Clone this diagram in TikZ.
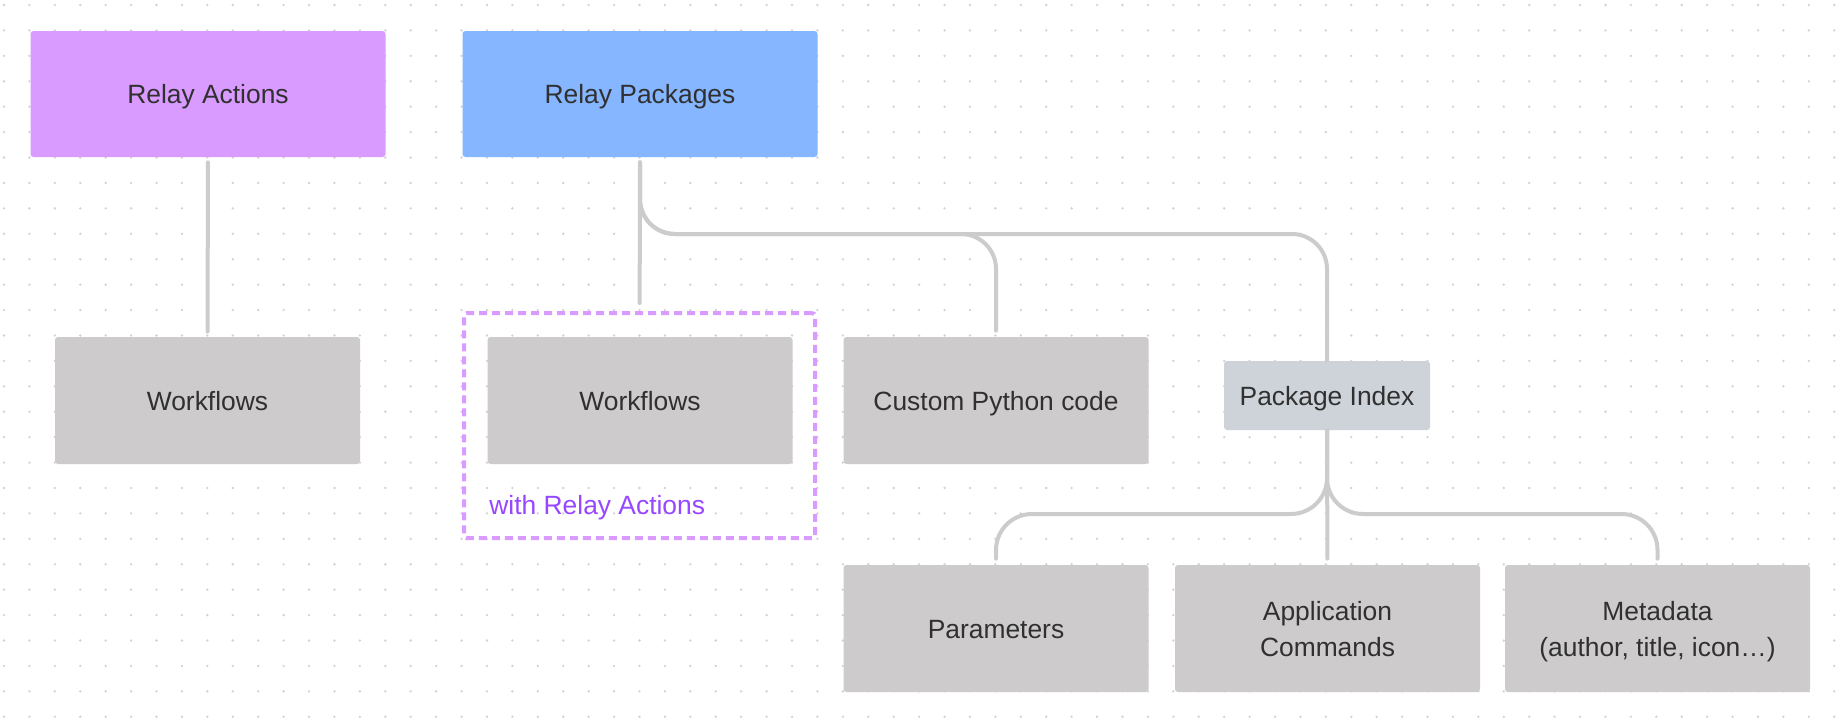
\documentclass[tikz,border=0pt]{standalone}
\usepackage{fontspec}
\setmainfont{Liberation Sans}
\definecolor{actfill}{HTML}{D99BFF}
\definecolor{pkgfill}{HTML}{85B6FF}
\definecolor{boxfill}{HTML}{CDCBCC}
\definecolor{idxfill}{HTML}{CED3DA}
\definecolor{linkgray}{HTML}{CCCCCC}
\definecolor{textgray}{HTML}{303030}
\definecolor{notepurple}{HTML}{9747FF}
\definecolor{dotgray}{HTML}{D2D2D2}

\begin{document}
\begin{tikzpicture}[x=0.5pt, y=-0.5pt,
    every node/.style={font=\fontsize{13.2pt}{18pt}\selectfont, text=textgray, inner sep=0pt, align=center, text height=9.5pt, text depth=0pt},
    box/.style={rectangle, rounded corners=1.5pt, fill=boxfill, minimum width=152.5pt, minimum height=63.5pt},
    twoline/.style={text height=28pt},
    topbox/.style={box, minimum width=177.5pt, minimum height=63pt},
    idxbox/.style={box, fill=idxfill, minimum width=103pt, minimum height=34.5pt},
    grpbox/.style={rectangle, rounded corners=1.5pt, draw=actfill, line width=2pt, dash pattern=on 4pt off 2.5pt, minimum width=175.5pt, minimum height=112.5pt},
    link/.style={draw=linkgray, line width=2pt, line cap=round}]
    \fill[white] (0,0) rectangle (1837,720);
    \useasboundingbox (0,0) rectangle (1837,720);
    \foreach \i in {0,...,72}
        \foreach \j in {0,...,28}
            \fill[dotgray] ({4+25.42*\i},{5+25.42*\j}) circle (0.65pt);
    \node (ra) [topbox, fill=actfill] at (208,94) {Relay Actions};
    \node (rp) [topbox, fill=pkgfill] at (640,94) {Relay Packages};
    \node (wfa) [box] at (207.5,400.5) {Workflows};
    \node (grp) [grpbox] at (639.5,425.5) {};
    \node (wfp) [box] at (640,400.5) {Workflows};
    \node (note) [anchor=base west, text=notepurple] at (489,514) {with Relay Actions};
    \node (py) [box] at (996,400.5) {Custom Python code};
    \node (idx) [idxbox] at (1327,395.5) {Package Index};
    \node (par) [box] at (996,628.5) {Parameters};
    \node (cmd) [box, twoline] at (1327.5,628.5) {Application\\Commands};
    \node (meta) [box, twoline] at (1657.5,628.5) {Metadata\\(author, title, icon…)};
    \coordinate (bus) at (640,234);
    \coordinate (bus2) at (1327,514);
    \draw[link, shorten <=2.5pt, shorten >=2.5pt] (ra) -- (wfa);
    \draw[link, shorten <=2.5pt, shorten >=4pt] (rp) -- (grp);
    \draw[link, rounded corners=17.5pt, shorten <=2.5pt, shorten >=3pt] (rp.south) |- (py.north |- bus) -- (py.north);
    \draw[link, rounded corners=17.5pt, shorten <=2.5pt] (rp.south) |- (idx.north |- bus) -- (idx.north);
    \draw[link, shorten >=3pt] (idx) -- (cmd);
    \draw[link, rounded corners=18pt, shorten >=3pt] (idx.south) |- (par.north |- bus2) -- (par.north);
    \draw[link, rounded corners=18pt, shorten >=3pt] (idx.south) |- (meta.north |- bus2) -- (meta.north);
\end{tikzpicture}
\end{document}
